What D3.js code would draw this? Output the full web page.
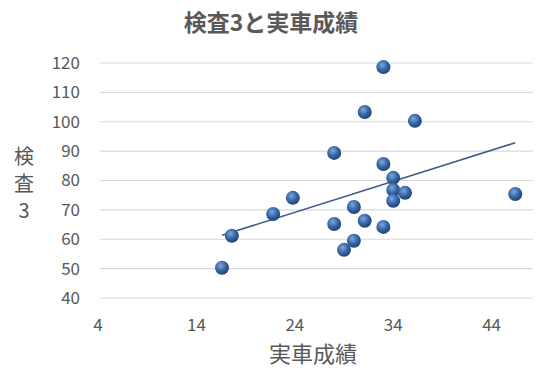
<!DOCTYPE html>
<html>
<head>
    <meta charset="utf-8">
    <title>検査3と実車成績</title>
    <script src="https://d3js.org/d3.v7.min.js"></script>
    <style>
        body { margin: 0; background: #fff; }
        text { font-family: "Noto Sans CJK JP", "Noto Sans", sans-serif; fill: #595959; }
    </style>
</head>
<body>
    <div id="chart"></div>

    <script>
        // データ: 実車成績 (x) と 検査3 (y)
        const jissha = [33.0, 31.1, 36.2, 28.0, 33.0, 34.0, 34.0, 35.2, 34.0, 23.8,
                        21.8, 17.6, 16.6, 28.0, 30.0, 31.1, 33.0, 30.0, 29.0, 46.4];
        const kensa3 = [118.6, 103.3, 100.3, 89.4, 85.6, 80.9, 76.8, 75.8, 73.1, 74.1,
                        68.6, 61.2, 50.3, 65.2, 71.0, 66.3, 64.2, 59.5, 56.4, 75.4];
        const xTicks = [4, 14, 24, 34, 44];
        const yTicks = [40, 50, 60, 70, 80, 90, 100, 110, 120];

        const width = 539, height = 369;

        const x = d3.scaleLinear().domain([4, 48]).range([98, 531]);
        const y = d3.scaleLinear().domain([40, 120]).range([298, 63]);

        const svg = d3.select("#chart").append("svg")
            .attr("width", width)
            .attr("height", height);

        // グラデーション (球っぽいマーカー)
        const grad = svg.append("defs").append("radialGradient")
            .attr("id", "ball")
            .attr("cx", "40%").attr("cy", "35%").attr("r", "65%");
        grad.append("stop").attr("offset", "0%").attr("stop-color", "#7ea6dc");
        grad.append("stop").attr("offset", "55%").attr("stop-color", "#3867a8");
        grad.append("stop").attr("offset", "100%").attr("stop-color", "#1f4274");

        // 目盛線
        svg.append("g")
            .selectAll("line")
            .data(yTicks)
            .join("line")
            .attr("x1", x(4) + 2).attr("x2", 533)
            .attr("y1", d => y(d)).attr("y2", d => y(d))
            .attr("stroke", "#d9d9d9")
            .attr("stroke-width", 1.2);

        // Y軸ラベル
        svg.append("g")
            .selectAll("text")
            .data(yTicks)
            .join("text")
            .attr("x", 80)
            .attr("y", d => y(d))
            .attr("dy", "0.35em")
            .attr("text-anchor", "end")
            .attr("font-size", 17)
            .text(d => d);

        // X軸ラベル
        svg.append("g")
            .selectAll("text")
            .data(xTicks)
            .join("text")
            .attr("x", d => x(d))
            .attr("y", 331)
            .attr("text-anchor", "middle")
            .attr("font-size", 17)
            .text(d => d);

        // タイトル
        svg.append("text")
            .attr("x", 271).attr("y", 31)
            .attr("text-anchor", "middle")
            .attr("font-size", 23)
            .attr("font-weight", "bold")
            .text("検査3と実車成績");

        // 軸タイトル
        svg.append("text")
            .attr("x", 313).attr("y", 362)
            .attr("text-anchor", "middle")
            .attr("font-size", 22)
            .text("実車成績");

        const yTitle = ["検", "査", "3"];
        svg.append("g")
            .selectAll("text")
            .data(yTitle)
            .join("text")
            .attr("x", 24)
            .attr("y", (d, i) => 164 + i * 27)
            .attr("text-anchor", "middle")
            .attr("font-size", 20)
            .text(d => d);

        // 近似直線 (最小二乗)
        const n = jissha.length;
        const mx = d3.mean(jissha), my = d3.mean(kensa3);
        let sxy = 0, sxx = 0;
        for (let i = 0; i < n; i++) {
            sxy += (jissha[i] - mx) * (kensa3[i] - my);
            sxx += (jissha[i] - mx) ** 2;
        }
        const slope = sxy / sxx, icpt = my - slope * mx;
        const xr = d3.extent(jissha);

        svg.append("line")
            .attr("x1", x(xr[0])).attr("y1", y(icpt + slope * xr[0]))
            .attr("x2", x(xr[1])).attr("y2", y(icpt + slope * xr[1]))
            .attr("stroke", "#3b5b8c")
            .attr("stroke-width", 1.6);

        // 散布点
        svg.append("g")
            .selectAll("circle")
            .data(jissha.map((d, i) => [d, kensa3[i]]))
            .join("circle")
            .attr("cx", d => x(d[0]))
            .attr("cy", d => y(d[1]))
            .attr("r", 7)
            .attr("fill", "url(#ball)");
    </script>
</body>
</html>
